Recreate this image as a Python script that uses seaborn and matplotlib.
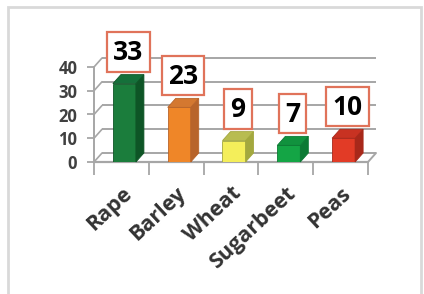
import matplotlib
matplotlib.use("Agg")
import matplotlib.pyplot as plt
from matplotlib.patches import Polygon, Rectangle
from matplotlib.path import Path
import seaborn as sns
import pandas as pd

# ---- data ----
crops = ["Rape", "Barley", "Wheat", "Sugarbeet", "Peas"]
values = [33, 23, 9, 7, 10]
yticks = [0, 10, 20, 30, 40]

# ---- styles ----
front_colors = ["#1b7d3c", "#ef8628", "#f4ee5a", "#14a545", "#e23b26"]
side_colors = ["#0e5526", "#b8642a", "#a3a83e", "#0c7a34", "#a8281a"]
top_colors = ["#15703a", "#d47830", "#b8bc50", "#11923e", "#c83222"]
grid_col = "#a6a6a6"
DX, DY = 8.0, 9.0  # depth offset in pixels
SHIFT = 3.0        # bars sit slightly right of category centre (pixels)

sns.set_theme(style="white")
plt.rcParams["font.family"] = ["Open Sans", "DejaVu Sans"]


def tall_box(x0, y0, width, height, mutation_size):
    padx = 0.23 * mutation_size
    H = 1.5 * mutation_size
    cy = y0 + height / 2 + 0.03 * mutation_size
    l, r = x0 - padx, x0 + width + padx
    b, t = cy - H / 2, cy + H / 2
    return Path([(l, b), (r, b), (r, t), (l, t), (l, b)], closed=True)


fig = plt.figure(figsize=(4.24, 2.94), dpi=100)
fig.patch.set_facecolor("white")
# outer frame
fig.patches.append(Rectangle((8 / 424, -0.05), (421 - 8) / 424, (294 - 7) / 294 + 0.05,
                             transform=fig.transFigure, fill=False,
                             edgecolor="#d9d9d9", linewidth=2))

ax = fig.add_axes([94 / 424, (294 - 162) / 294, 274 / 424, 95 / 294])
df = pd.DataFrame({"crop": crops, "value": values})
sns.barplot(data=df, x="crop", y="value", hue="crop", palette=front_colors,
            width=0.42, legend=False, ax=ax, zorder=3, saturation=1)
ax.set_xlim(-0.5, len(crops) - 0.5)
ax.set_ylim(0, 40)

# pixel -> data conversion
bb = ax.get_window_extent()
ux = (ax.get_xlim()[1] - ax.get_xlim()[0]) / bb.width
uy = (ax.get_ylim()[1] - ax.get_ylim()[0]) / bb.height
dx, dy = DX * ux, DY * uy
x0, x1 = ax.get_xlim()

# back-wall gridlines, left-wall connectors, floor
for t in yticks:
    ax.plot([x0 + dx, x1 + dx], [t + dy, t + dy], color=grid_col, lw=1.4,
            zorder=1, clip_on=False, solid_capstyle="butt")
    ax.plot([x0, x0 + dx], [t, t + dy], color=grid_col, lw=1.2, zorder=1, clip_on=False)
ax.plot([x1, x1 + dx], [0, dy], color=grid_col, lw=1.4, zorder=1, clip_on=False)
ax.plot([x0, x1], [0, 0], color=grid_col, lw=1.6, zorder=2, clip_on=False)
ax.plot([x0, x0], [0, 40], color=grid_col, lw=1.4, zorder=2, clip_on=False)

# 3D side and top faces + labels
for i, p in enumerate(ax.patches):
    p.set_x(p.get_x() + SHIFT * ux)
    bx, bw, bh = p.get_x(), p.get_width(), p.get_height()
    p.set_edgecolor(side_colors[i])
    p.set_linewidth(0.6)
    side = Polygon([(bx + bw, 0), (bx + bw + dx, dy), (bx + bw + dx, bh + dy), (bx + bw, bh)],
                   closed=True, facecolor=side_colors[i], edgecolor=side_colors[i],
                   lw=0.6, zorder=3, clip_on=False)
    top = Polygon([(bx, bh), (bx + dx, bh + dy), (bx + bw + dx, bh + dy), (bx + bw, bh)],
                  closed=True, facecolor=top_colors[i], edgecolor=side_colors[i],
                  lw=0.6, zorder=3, clip_on=False)
    ax.add_patch(side)
    ax.add_patch(top)
    ax.annotate(str(values[i]), xy=(bx + bw / 2, bh), xytext=(4, 31),
                textcoords="offset pixels", ha="center", va="center",
                fontsize=19, fontweight="bold", color="black",
                annotation_clip=False, zorder=5,
                bbox=dict(boxstyle=tall_box, facecolor="white",
                          edgecolor="#e0735a", linewidth=1.6))

for s in ax.spines.values():
    s.set_visible(False)
ax.set_xlabel("")
ax.set_ylabel("")
ax.set_yticks(yticks)
ax.set_yticklabels([str(v) for v in yticks], fontsize=12, fontweight="bold", color="#404040")
ax.set_xticks(range(len(crops)))
ax.set_xticklabels(crops, rotation=43, ha="right", rotation_mode="anchor",
                   fontsize=15.5, fontweight="bold", color="#333333")
ax.set_xticks([i - 0.5 for i in range(len(crops) + 1)], minor=True)
ax.tick_params(axis="x", which="major", length=0, pad=15)
ax.tick_params(axis="x", which="minor", length=9, width=1.3, color=grid_col, bottom=True, direction="out")
ax.tick_params(axis="y", length=5, width=1.3, color=grid_col, left=True, pad=7)
ax.set_facecolor("none")

fig.savefig("out.png", dpi=100)
